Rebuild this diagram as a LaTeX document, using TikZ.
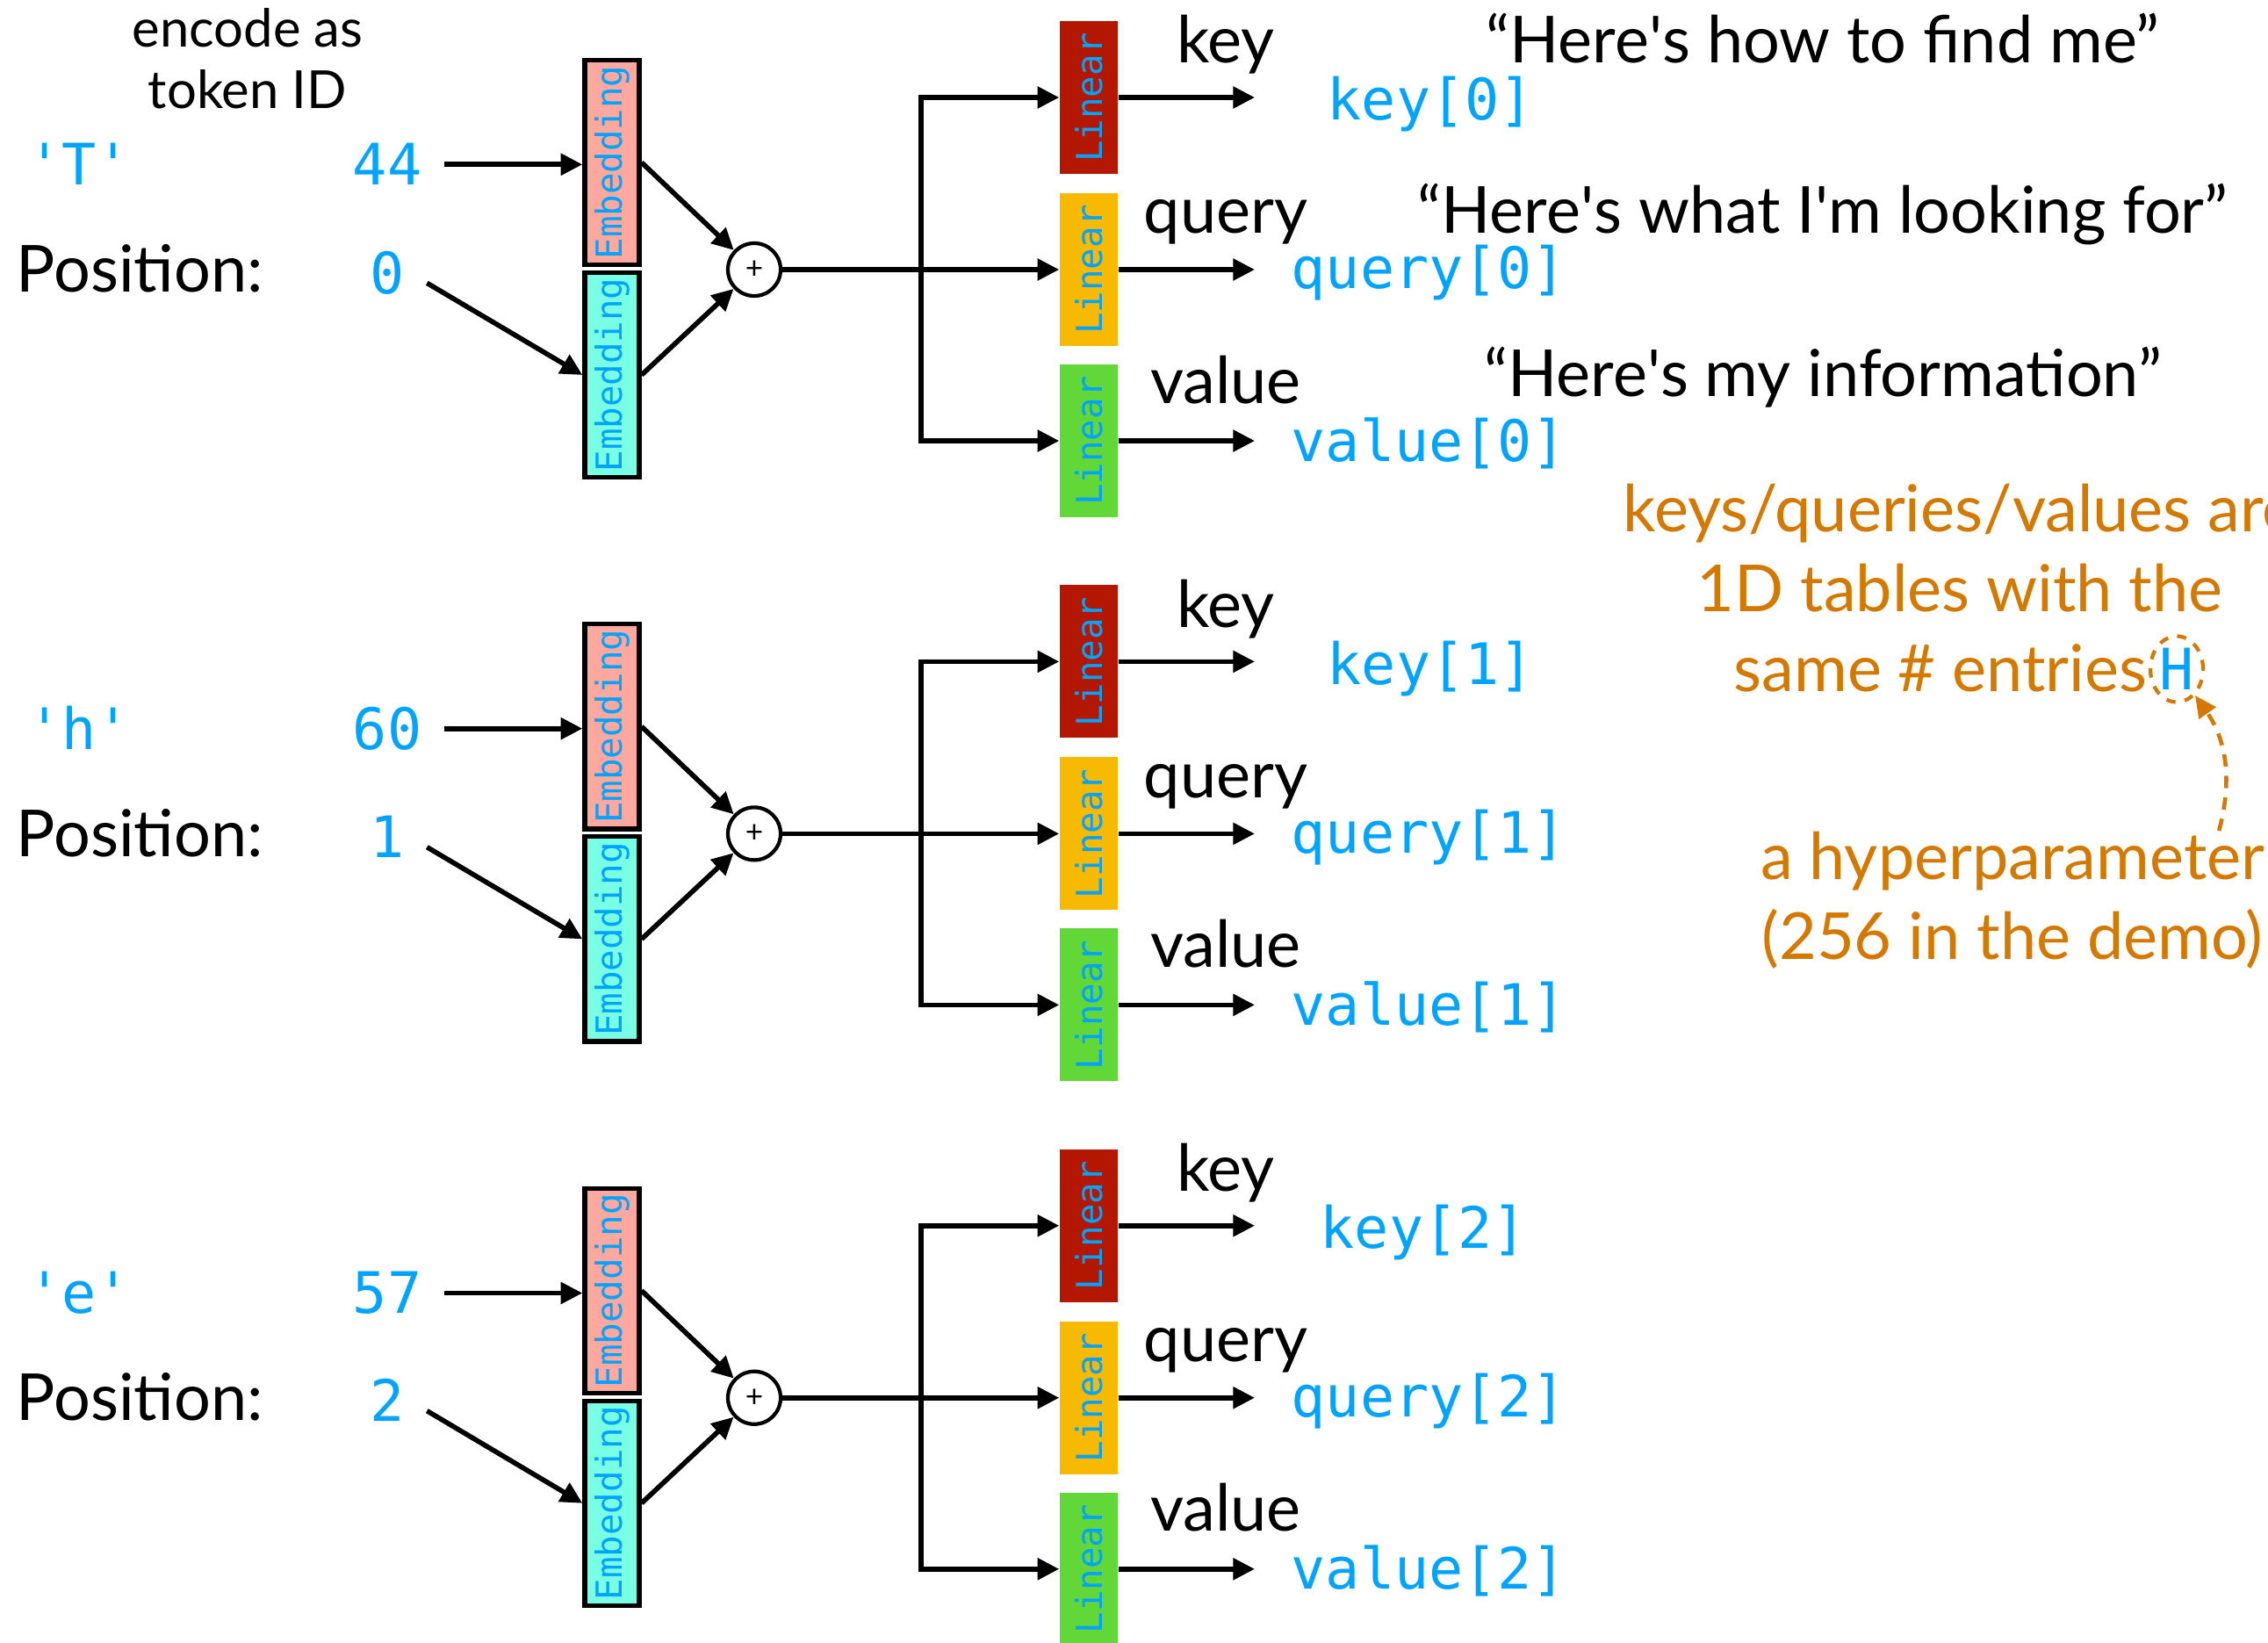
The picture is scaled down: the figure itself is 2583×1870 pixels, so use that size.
\documentclass[tikz,border=0pt]{standalone}
\usepackage{fontspec}
\setmainfont{Lato}
\setmonofont{DejaVu Sans Mono}
\usepackage{tikz}
\usetikzlibrary{arrows.meta, positioning, shapes.geometric, calc}

\definecolor{idblue}{RGB}{0,163,255}
\definecolor{embpink}{RGB}{255,168,160}
\definecolor{embcyan}{RGB}{120,255,228}
\definecolor{linred}{RGB}{180,23,0}
\definecolor{linyellow}{RGB}{248,186,0}
\definecolor{lingreen}{RGB}{98,216,56}
\definecolor{noteorange}{RGB}{212,121,0}

\begin{document}
\begin{tikzpicture}[x=0.01cm, y=0.01cm,
                tok/.style={font=\ttfamily\fontsize{18.5}{22}\selectfont, text=idblue, inner sep=0pt},
                tok idx/.style={tok, inner xsep=2.5mm},
                lbl/.style={font=\fontsize{21}{26}\selectfont, inner sep=0pt},
                emb box/.style={draw, line width=1.5pt, minimum width=6.2mm, minimum height=23.3mm, inner sep=0pt,
                                font=\ttfamily\fontsize{11.6}{13}\selectfont, text=idblue},
                lin box/.style={minimum width=6.6mm, minimum height=17.4mm, inner sep=0pt,
                                font=\ttfamily\fontsize{11.6}{13}\selectfont, text=idblue},
                adder/.style={draw, circle, line width=1.2pt, minimum size=6mm, inner sep=0pt, font=\fontsize{10}{10}\selectfont},
                flow/.style={-{Triangle[length=7pt, width=6.8pt]}, line width=1.6pt},
                note/.style={font=\fontsize{21}{26}\selectfont, text=noteorange, inner sep=0pt}]
                \useasboundingbox (0,0) rectangle (2583,-1870);

                \node[font=\fontsize{17}{20}\selectfont, align=center, inner sep=0pt] (encode) at (282,-67) {encode as\\token ID};

                % Token 'T' at position 0
                \node[tok, anchor=base] (char0) at (90,-211) {'T'};
                \node[lbl, anchor=base west] (poslbl0) at (18,-333) {Position:};
                \node[tok idx, anchor=base] (id0) at (441,-211) {44};
                \node[tok idx, anchor=base] (posidx0) at (441,-334) {0};
                \node[emb box, fill=embpink] (tokemb0) at (697,-185) {\rotatebox{90}{Embedding}};
                \node[emb box, fill=embcyan] (posemb0) at (697,-427) {\rotatebox{90}{Embedding}};
                \node[adder] (plus0) at (859,-307) {+};
                \node[lin box, fill=linred] (link0) at (1240,-111) {\rotatebox{90}{Linear}};
                \node[lin box, fill=linyellow] (linq0) at (1240,-307) {\rotatebox{90}{Linear}};
                \node[lin box, fill=lingreen] (linv0) at (1240,-502) {\rotatebox{90}{Linear}};
                \coordinate (br0) at (1049,-307);
                \coordinate (kend0) at (1429,-111);
                \coordinate (qend0) at (1429,-307);
                \coordinate (vend0) at (1429,-502);
                \node[lbl, anchor=base] (keylbl0) at (1396,-72) {key};
                \node[lbl, anchor=base] (querylbl0) at (1396,-266) {query};
                \node[lbl, anchor=base] (valuelbl0) at (1396,-459) {value};
                \node[tok, anchor=base west] (keyout0) at (1511,-137) {key[0]};
                \node[tok, anchor=base west] (queryout0) at (1470,-329) {query[0]};
                \node[tok, anchor=base west] (valueout0) at (1470,-525) {value[0]};
                \draw[flow] (id0.east) -- (id0.east -| tokemb0.west);
                \draw[flow] ([yshift=-1.2mm]posidx0.east) -- (posemb0.west);
                \draw[flow] (tokemb0.east) -- (plus0);
                \draw[flow] (posemb0.east) -- (plus0);
                \draw[flow] (plus0) -- (linq0);
                \draw[flow] (br0) |- (link0);
                \draw[flow] (br0) |- (linv0);
                \draw[flow] (link0) -- (kend0);
                \draw[flow] (linq0) -- (qend0);
                \draw[flow] (linv0) -- (vend0);

                % What each vector is for
                \node[lbl, anchor=base] (findme) at (2076,-72) {“Here\textquotesingle s how to find me”};
                \node[lbl, anchor=base] (lookfor) at (2076,-266) {“Here\textquotesingle s what I\textquotesingle m looking for”};
                \node[lbl, anchor=base] (myinfo) at (2076,-451) {“Here\textquotesingle s my information”};

                % Token 'h' at position 1
                \begin{scope}[yshift=-6.42cm]
                \node[tok, anchor=base] (char1) at (90,-211) {'h'};
                \node[lbl, anchor=base west] (poslbl1) at (18,-333) {Position:};
                \node[tok idx, anchor=base] (id1) at (441,-211) {60};
                \node[tok idx, anchor=base] (posidx1) at (441,-334) {1};
                \node[emb box, fill=embpink] (tokemb1) at (697,-185) {\rotatebox{90}{Embedding}};
                \node[emb box, fill=embcyan] (posemb1) at (697,-427) {\rotatebox{90}{Embedding}};
                \node[adder] (plus1) at (859,-307) {+};
                \node[lin box, fill=linred] (link1) at (1240,-111) {\rotatebox{90}{Linear}};
                \node[lin box, fill=linyellow] (linq1) at (1240,-307) {\rotatebox{90}{Linear}};
                \node[lin box, fill=lingreen] (linv1) at (1240,-502) {\rotatebox{90}{Linear}};
                \coordinate (br1) at (1049,-307);
                \coordinate (kend1) at (1429,-111);
                \coordinate (qend1) at (1429,-307);
                \coordinate (vend1) at (1429,-502);
                \node[lbl, anchor=base] (keylbl1) at (1396,-72) {key};
                \node[lbl, anchor=base] (querylbl1) at (1396,-266) {query};
                \node[lbl, anchor=base] (valuelbl1) at (1396,-459) {value};
                \node[tok, anchor=base west] (keyout1) at (1511,-137) {key[1]};
                \node[tok, anchor=base west] (queryout1) at (1470,-329) {query[1]};
                \node[tok, anchor=base west] (valueout1) at (1470,-525) {value[1]};
                \draw[flow] (id1.east) -- (id1.east -| tokemb1.west);
                \draw[flow] ([yshift=-1.2mm]posidx1.east) -- (posemb1.west);
                \draw[flow] (tokemb1.east) -- (plus1);
                \draw[flow] (posemb1.east) -- (plus1);
                \draw[flow] (plus1) -- (linq1);
                \draw[flow] (br1) |- (link1);
                \draw[flow] (br1) |- (linv1);
                \draw[flow] (link1) -- (kend1);
                \draw[flow] (linq1) -- (qend1);
                \draw[flow] (linv1) -- (vend1);
                \end{scope}

                % Token 'e' at position 2
                \begin{scope}[yshift=-12.84cm]
                \node[tok, anchor=base] (char2) at (90,-211) {'e'};
                \node[lbl, anchor=base west] (poslbl2) at (18,-333) {Position:};
                \node[tok idx, anchor=base] (id2) at (441,-211) {57};
                \node[tok idx, anchor=base] (posidx2) at (441,-334) {2};
                \node[emb box, fill=embpink] (tokemb2) at (697,-185) {\rotatebox{90}{Embedding}};
                \node[emb box, fill=embcyan] (posemb2) at (697,-427) {\rotatebox{90}{Embedding}};
                \node[adder] (plus2) at (859,-307) {+};
                \node[lin box, fill=linred] (link2) at (1240,-111) {\rotatebox{90}{Linear}};
                \node[lin box, fill=linyellow] (linq2) at (1240,-307) {\rotatebox{90}{Linear}};
                \node[lin box, fill=lingreen] (linv2) at (1240,-502) {\rotatebox{90}{Linear}};
                \coordinate (br2) at (1049,-307);
                \coordinate (kend2) at (1429,-111);
                \coordinate (qend2) at (1429,-307);
                \coordinate (vend2) at (1429,-502);
                \node[lbl, anchor=base] (keylbl2) at (1396,-72) {key};
                \node[lbl, anchor=base] (querylbl2) at (1396,-266) {query};
                \node[lbl, anchor=base] (valuelbl2) at (1396,-459) {value};
                \node[tok, anchor=base west] (keyout2) at (1503,-137) {key[2]};
                \node[tok, anchor=base west] (queryout2) at (1470,-329) {query[2]};
                \node[tok, anchor=base west] (valueout2) at (1470,-525) {value[2]};
                \draw[flow] (id2.east) -- (id2.east -| tokemb2.west);
                \draw[flow] ([yshift=-1.2mm]posidx2.east) -- (posemb2.west);
                \draw[flow] (tokemb2.east) -- (plus2);
                \draw[flow] (posemb2.east) -- (plus2);
                \draw[flow] (plus2) -- (linq2);
                \draw[flow] (br2) |- (link2);
                \draw[flow] (br2) |- (linv2);
                \draw[flow] (link2) -- (kend2);
                \draw[flow] (linq2) -- (qend2);
                \draw[flow] (linv2) -- (vend2);
                \end{scope}

                % Side note on the table size
                \node[note, anchor=north, align=center] (tables) at (2232,-550) {keys/queries/values are\\1D tables with the};
                \node[tok, draw=noteorange, dashed, line width=1.2pt, ellipse, minimum width=6mm, minimum height=7.5mm] (hdim) at (2479,-762) {H};
                \node[note, anchor=base east] (entries) at (2446,-787) {same \# entries};
                \node[note, anchor=north, align=center] (hyper) at (2292,-946) {a hyperparameter\\(256 in the demo)};
                \draw[noteorange, dash pattern=on 4pt off 3pt, line width=1.3pt, -{Triangle[length=7pt, width=6.5pt]}]
                    ([xshift=2.35cm]hyper.north) to[out=75, in=-55] (hdim);
            \end{tikzpicture}
\end{document}
